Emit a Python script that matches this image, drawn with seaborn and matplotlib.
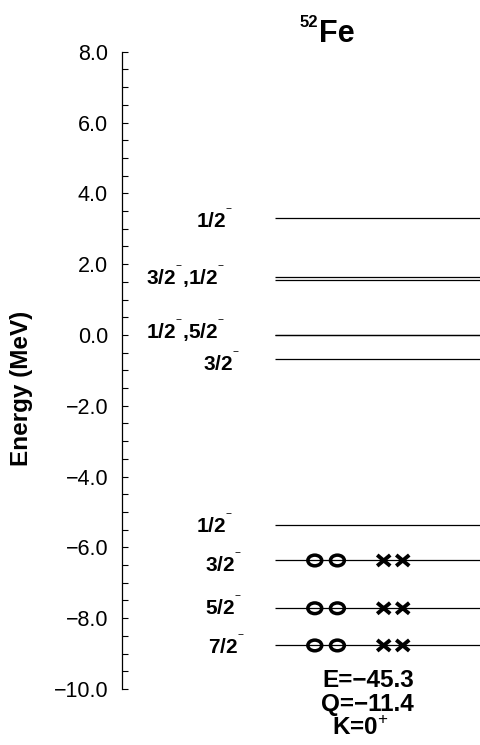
import numpy as np
import pandas as pd
import matplotlib
matplotlib.use("Agg")
import matplotlib.pyplot as plt
import matplotlib.ticker as mtick
from matplotlib.path import Path
from matplotlib.transforms import Affine2D
import seaborn as sns

# single-particle levels of 52Fe (MeV)
levels = [3.29, 1.65, 1.56, 0.01, 0.0, -0.67, -5.36, -6.37, -7.72, -8.77]

# spin labels and the level (group) each one belongs to
m = "$^{^{-}}$"
label_text = [f"1/2{m}", f"3/2{m},1/2{m}", f"1/2{m},5/2{m}", f"3/2{m}",
              f"1/2{m}", f"3/2{m}", f"5/2{m}", f"7/2{m}"]
label_energy = [3.29, 1.60, 0.01, -0.67, -5.36, -6.37, -7.72, -8.77]

# occupied levels: protons (o) and neutrons (x)
occ_energy = [-6.37, -7.72, -8.77]
n_protons = [2, 2, 2]
n_neutrons = [2, 2, 2]

nucleus_mass = "52"
nucleus_name = "Fe"
info_lines = ["E=\u221245.3", "Q=\u221211.4", "K=0$^{+}$"]

yticks_major = [8.0, 6.0, 4.0, 2.0, 0.0, -2.0, -4.0, -6.0, -8.0, -10.0]

# layout
label_xr = [0.309, 0.287, 0.287, 0.329, 0.309, 0.334, 0.334, 0.343]
label_dy = [-0.27, -0.19, -0.13, -0.34, -0.23, -0.33, -0.20, -0.25]
line_x0 = 0.426
proton_slots = [0.537, 0.600]
neutron_slots = [0.729, 0.782]

sns.set_style("ticks")
plt.rcParams["font.family"] = ["Liberation Sans", "DejaVu Sans"]
plt.rcParams["mathtext.fontset"] = "custom"
plt.rcParams["mathtext.rm"] = "Liberation Sans"
plt.rcParams["mathtext.bf"] = "Liberation Sans:bold"
for k in ["text.color", "axes.labelcolor", "xtick.color", "ytick.color", "axes.edgecolor"]:
    plt.rcParams[k] = "black"

fig = plt.figure(figsize=(4.81, 7.45), dpi=100)
ax = fig.add_axes([122 / 481, 1 - 689 / 745, 359 / 481, 637.3 / 745])

ax.hlines(levels, line_x0, 1.0, color="black", lw=0.9)

for txt, e, xr, dy in zip(label_text, label_energy, label_xr, label_dy):
    ax.text(xr, e + dy, txt, ha="right", va="baseline", fontsize=15,
            fontweight="bold", transform=ax.get_yaxis_transform())

# occupation markers
rows = []
for e, npr, nne in zip(occ_energy, n_protons, n_neutrons):
    for i in range(npr):
        rows.append({"x": proton_slots[i], "energy": e, "kind": "p"})
    for i in range(nne):
        rows.append({"x": neutron_slots[i], "energy": e, "kind": "n"})
occ = pd.DataFrame(rows)

ellipse = Path.unit_circle().transformed(Affine2D().scale(1.3, 1.0))
cross = Path([(-1.2, -1), (1.2, 1), (-1.2, 1), (1.2, -1)],
             [Path.MOVETO, Path.LINETO, Path.MOVETO, Path.LINETO])

sns.scatterplot(data=occ[occ["kind"] == "p"], x="x", y="energy", ax=ax,
                marker=ellipse, s=100, facecolors="none", edgecolor="black",
                linewidth=2.5, zorder=3, legend=False)
sns.scatterplot(data=occ[occ["kind"] == "n"], x="x", y="energy", ax=ax,
                marker=cross, s=88, facecolors="none", edgecolor="black",
                linewidth=2.8, zorder=3, legend=False)

ax.set_xlim(0, 1)
ax.set_ylim(-10, 8)
ax.set_xticks([])
ax.set_xlabel("")
ax.yaxis.set_major_locator(mtick.FixedLocator(yticks_major))
ax.yaxis.set_minor_locator(mtick.MultipleLocator(0.5))
ax.yaxis.set_major_formatter(mtick.FuncFormatter(lambda v, p: f"{v:.1f}".replace("-", "\u2212")))
ax.tick_params(axis="y", which="both", direction="in", length=4.3, width=0.8,
               color="black")
ax.tick_params(axis="y", which="major", labelsize=15.5, pad=10)
sns.despine(ax=ax, top=True, right=True, bottom=True)
ax.spines["left"].set_linewidth(0.9)
ax.patch.set_alpha(0)

ax.set_ylabel("Energy (MeV)", fontsize=17.5, fontweight="bold")
ax.yaxis.set_label_coords(-0.247, 0.472)

# title
fig.text(319 / 481, 1 - 42.3 / 745, nucleus_name, fontsize=22, fontweight="bold",
         ha="left", va="baseline")
fig.text(318 / 481, 1 - 26.7 / 745, nucleus_mass, fontsize=12, fontweight="bold",
         ha="right", va="baseline")

# bottom info
for txt, xl, yb in zip(info_lines, [322, 321, 332], [686.7, 711.5, 735]):
    fig.text(xl / 481, 1 - yb / 745, txt, fontsize=17.5, fontweight="bold",
             ha="left", va="baseline")

fig.savefig("out.png", dpi=100)
